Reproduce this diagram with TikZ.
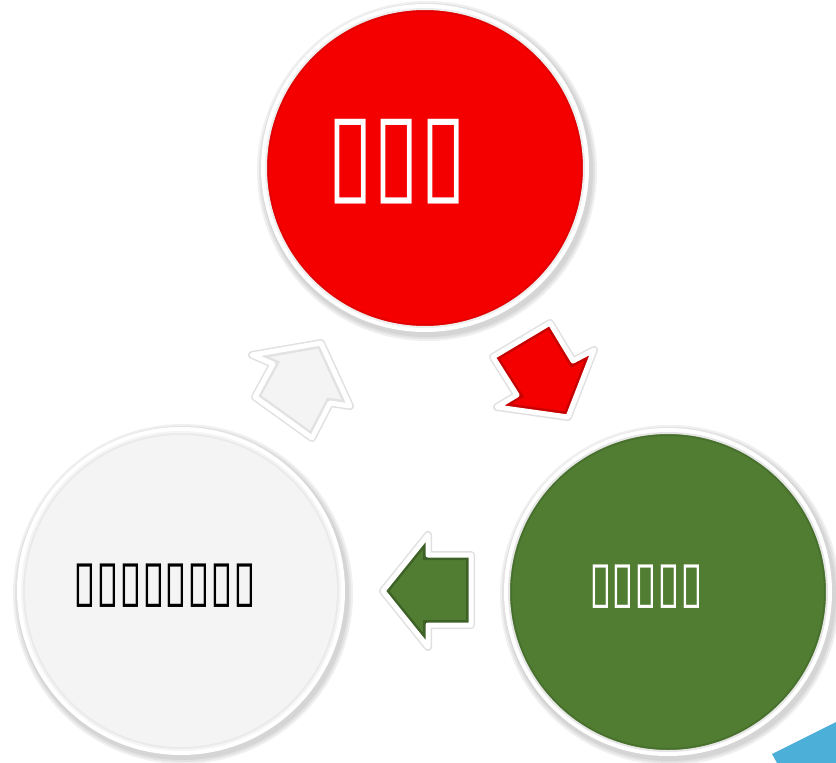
\documentclass[tikz,border=0pt]{standalone}
\usepackage{fontspec}
\newfontfamily\symfont{DejaVu Sans}
\definecolor{cred}{RGB}{244,0,0}
\definecolor{cgreen}{RGB}{80,125,50}
\definecolor{cwhite}{RGB}{244,244,244}
\definecolor{cblue}{RGB}{75,175,215}
\tikzset{
  disc/.style={circle, minimum size=322pt, inner sep=0pt, draw=white, line width=6pt},
  shadowdisc/.style={fill=black, fill opacity=0.06},
  arrowshadow/.style={draw=black, draw opacity=0.12, line width=8pt, line join=round},
  arrowborder/.style={draw=white, line width=5pt, line join=round},
  arrowbevel/.style={draw=black, draw opacity=0.18, line width=10pt, line join=miter},
}
\begin{document}
\begin{tikzpicture}[x=1pt,y=-1pt]
\useasboundingbox (0,0) rectangle (836,763);
% shadows
\foreach \c in {(427,171),(670,595),(183,594)}{
  \foreach \r in {166,168,170}{\fill[shadowdisc] \c circle (\r);}
}
\node[disc, fill=cred] (top) at (425,168) {};
\node[disc, fill=cgreen] (right) at (668,592) {};
\node[disc, fill=cwhite] (left) at (181,591) {};
% inner bevel
\draw[black, opacity=0.07, line width=4pt] (top.center) circle (158);
\draw[black, opacity=0.10, line width=4pt] (right.center) circle (158);
\draw[black, opacity=0.04, line width=4pt] (left.center) circle (158);
% texts
\node[text=white, font=\symfont\fontsize{60}{60}\selectfont] (ttop) at (397,162) {\scalebox{1.40}[1.85]{▯▯▯}};
\node[text=white, font=\symfont\fontsize{30}{30}\selectfont] (tright) at (646,587) {\scalebox{1.38}[1.9]{▯▯▯▯▯}};
\node[text=black, font=\symfont\fontsize{30}{30}\selectfont] (tleft) at (165,586) {\scalebox{1.38}[1.9]{▯▯▯▯▯▯▯▯}};
% arrows
\def\redarrow{(550,323) -- (493,357) -- (517,395) -- (497,407) -- (568,417) -- (594,350) -- (573,361) -- cycle}
\def\greenarrow{(383,591) -- (428,535) -- (428,555) -- (471,555) -- (471,625) -- (428,625) -- (428,647) -- cycle}
\def\whitearrow{(321,343) -- (252,355) -- (273,364) -- (255,397) -- (312,438) -- (330,403) -- (350,406) -- cycle}
\foreach \a/\col/\op in {\redarrow/cred/0.18, \greenarrow/cgreen/0.22, \whitearrow/cwhite/0.07}{
  \draw[arrowshadow] \a;
  \fill[\col] \a;
  \begin{scope}
    \clip \a;
    \draw[arrowbevel, draw opacity=\op] \a;
  \end{scope}
  \draw[arrowborder] \a;
}
% corner
\fill[cblue] (772,754) -- (836,722) -- (836,763) -- (777,763) -- cycle;
\end{tikzpicture}
\end{document}
